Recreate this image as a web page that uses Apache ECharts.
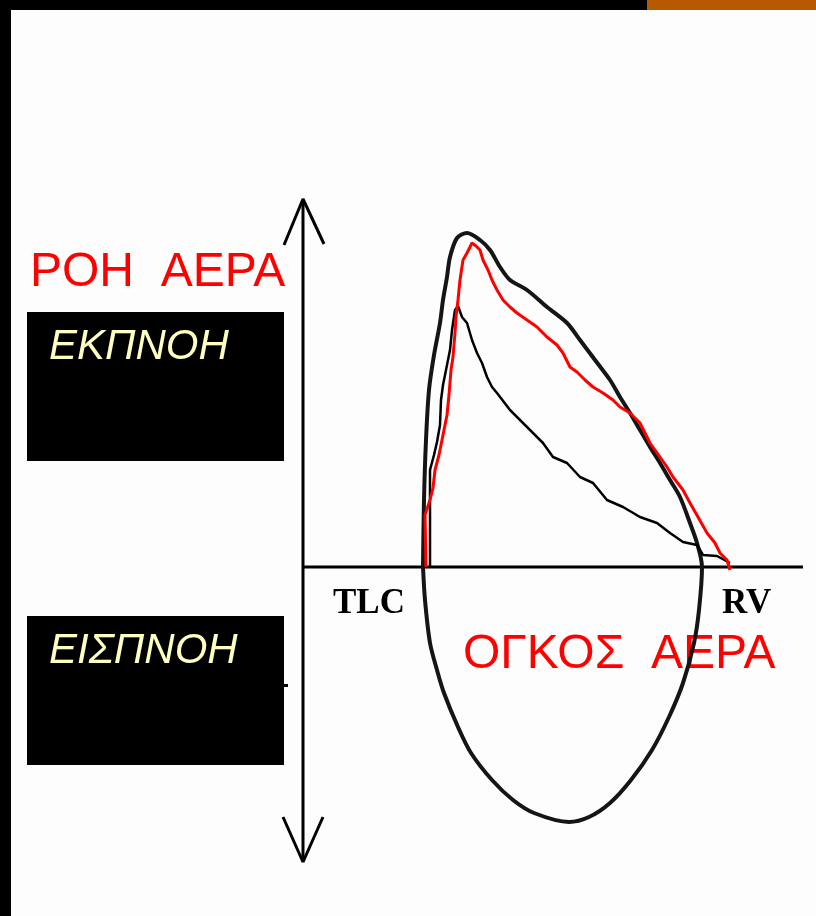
<!DOCTYPE html>
<html>
<head>
<meta charset="utf-8">
<script src="https://cdn.jsdelivr.net/npm/echarts@6/dist/echarts.min.js"></script>
<style>
  html, body { margin: 0; padding: 0; background: #fdfdfd; }
  #chart { width: 816px; height: 916px; }
</style>
</head>
<body>
<div id="chart"></div>
<script>
// volume (x) and flow (y) in arbitrary units
var outerLoop = [
  [12.0, 0], [12.1, 6.7], [12.3, 12.7], [12.6, 17.7], [13.1, 21.2], [13.7, 24.4],
  [14.0, 26.7], [14.4, 29.0], [14.7, 31.0], [15.4, 32.9], [16.4, 33.4], [17.7, 32.7],
  [18.7, 31.7], [19.7, 30.0], [20.7, 28.7], [22.4, 27.7], [24.4, 26.0], [26.4, 24.4],
  [27.7, 22.7], [29.2, 20.7], [30.7, 18.7], [31.7, 17.0], [32.7, 15.4], [33.7, 13.7],
  [34.7, 12.0], [35.7, 10.4], [36.7, 8.7], [37.7, 7.0], [38.7, 4.4], [39.4, 2.4],
  [39.9, 0], [39.6, -4.3], [39.1, -7.6], [38.0, -11.6], [36.6, -15.0], [34.9, -18.3],
  [32.8, -21.3], [30.7, -23.6], [28.6, -25.0], [26.6, -25.5], [23.1, -24.6], [21.0, -23.3],
  [18.9, -21.3], [16.8, -18.6], [15.5, -16.0], [14.1, -12.6], [13.4, -10.3], [12.7, -7.6],
  [12.2, -3.3], [12.0, 0]
];

var redCurve = [
  [12.3, 0], [12.2, 5.2], [12.7, 6.7], [13.0, 7.9], [13.2, 9.7], [13.6, 11.2],
  [14.0, 13.2], [14.4, 15.2], [14.6, 17.2], [14.8, 19.7], [15.0, 21.0], [15.2, 23.4],
  [15.3, 25.0], [15.5, 26.7], [15.7, 28.7], [16.0, 30.7], [16.4, 31.4], [16.9, 32.4],
  [17.3, 32.1], [17.7, 31.7], [18.0, 30.7], [18.5, 29.7], [18.9, 28.7], [19.4, 27.7],
  [20.0, 26.7], [20.7, 26.0], [21.4, 25.4], [22.4, 24.7], [23.4, 24.0], [24.4, 23.0],
  [25.4, 22.2], [26.0, 21.4], [26.7, 20.0], [27.4, 19.5], [28.2, 18.7], [29.0, 18.0],
  [30.0, 17.4], [31.0, 16.7], [31.7, 16.0], [32.7, 15.4], [33.7, 14.4], [34.7, 12.4],
  [35.7, 11.0], [36.4, 10.0], [37.0, 9.0], [38.0, 7.7], [38.7, 6.4], [39.5, 5.0],
  [40.4, 3.4], [41.2, 2.4], [41.7, 1.4], [42.4, 0.7], [42.7, -0.3]
];

var blackCurve = [
  [12.7, 0], [12.7, 9.7], [13.1, 11.2], [13.4, 12.5], [13.7, 14.2], [13.8, 16.7],
  [14.0, 18.2], [14.3, 19.7], [14.7, 21.7], [14.9, 23.7], [15.2, 25.7], [15.5, 26.1],
  [15.9, 25.0], [16.4, 24.4], [16.9, 22.7], [17.4, 21.4], [17.9, 20.4], [18.4, 19.0],
  [18.9, 18.0], [19.4, 17.4], [20.7, 15.7], [22.0, 14.4], [23.0, 13.4], [24.0, 12.4],
  [25.0, 11.0], [26.4, 10.4], [27.7, 9.0], [29.0, 8.4], [30.4, 6.7], [32.0, 6.0],
  [33.7, 5.0], [35.4, 4.4], [36.7, 3.4], [38.0, 2.5], [39.4, 2.2], [40.0, 1.2],
  [41.4, 1.1], [42.7, 0.4]
];

var xMin = -3, xMax = 50, yMin = -29.5, yMax = 36.7;

// axes drawn as lines with open arrow heads at both ends of the flow axis
var volumeAxis = [[0, 0], [xMax, 0]];
var flowAxis = [[0, yMin], [0, yMax]];
var arrowUp = [[-1.9, 32.2], [0, 36.8], [2.1, 32.3]];
var arrowDown = [[-2.0, -25.0], [0, -29.5], [2.0, -25.0]];

var chart = echarts.init(document.getElementById('chart'));

var font = '"Liberation Sans", Arial, sans-serif';
var serif = '"Liberation Serif", "Times New Roman", serif';

function plainLine(data, color, width, smooth) {
  return {
    type: 'line', data: data, symbol: 'none', clip: false, smooth: smooth || false,
    lineStyle: { color: color, width: width }
  };
}

var option = {
  backgroundColor: '#fdfdfd',
  animation: false,
  grid: { left: 273, right: 13, top: 200, bottom: 54 },
  xAxis: {
    type: 'value', min: xMin, max: xMax,
    axisLine: { show: false }, axisTick: { show: false },
    axisLabel: { show: false }, splitLine: { show: false }
  },
  yAxis: {
    type: 'value', min: yMin, max: yMax,
    axisLine: { show: false }, axisTick: { show: false },
    axisLabel: { show: false }, splitLine: { show: false }
  },
  series: [
    plainLine(volumeAxis, '#000', 3),
    plainLine(flowAxis, '#000', 3),
    plainLine(arrowUp, '#000', 3),
    plainLine(arrowDown, '#000', 3),
    plainLine(outerLoop, '#151515', 4, 0.3),
    plainLine(blackCurve, '#000', 2.5),
    plainLine(redCurve, '#ff0000', 3)
  ],
  graphic: [
    // frame bars
    { type: 'rect', left: 0, top: 0, shape: { width: 11, height: 916 }, style: { fill: '#000' } },
    { type: 'rect', left: 0, top: 0, shape: { width: 647, height: 10 }, style: { fill: '#000' } },
    { type: 'rect', left: 647, top: 0, shape: { width: 169, height: 10 }, style: { fill: '#b55a00' } },
    // black boxes
    { type: 'rect', left: 27, top: 312, shape: { width: 257, height: 149 }, style: { fill: '#000' } },
    { type: 'rect', left: 27, top: 616, shape: { width: 257, height: 149 }, style: { fill: '#000' } },
    { type: 'rect', left: 280, top: 684, shape: { width: 8, height: 3 }, style: { fill: '#000' } },
    { type: 'text', style: { text: 'ΕΚΠΝΟΗ', x: 49, y: 347, verticalAlign: 'middle',
        font: 'italic 42px ' + font, fill: '#ffffc0' } },
    { type: 'text', style: { text: 'ΕΙΣΠΝΟΗ', x: 49, y: 651, verticalAlign: 'middle',
        font: 'italic 42px ' + font, fill: '#ffffc0' } },
    { type: 'text', style: { text: 'ΡΟΗ  ΑΕΡΑ', x: 30, y: 273, verticalAlign: 'middle',
        font: '48px ' + font, fill: '#ff0000' } },
    { type: 'text', style: { text: 'ΟΓΚΟΣ  ΑΕΡΑ', x: 463, y: 655, verticalAlign: 'middle',
        font: '48px ' + font, fill: '#ff0000' } },
    { type: 'text', style: { text: 'TLC', x: 333, y: 604, verticalAlign: 'middle',
        font: 'bold 35px ' + serif, fill: '#000' } },
    { type: 'text', style: { text: 'RV', x: 722, y: 604, verticalAlign: 'middle',
        font: 'bold 35px ' + serif, fill: '#000' } }
  ]
};

chart.setOption(option);
</script>
</body>
</html>
